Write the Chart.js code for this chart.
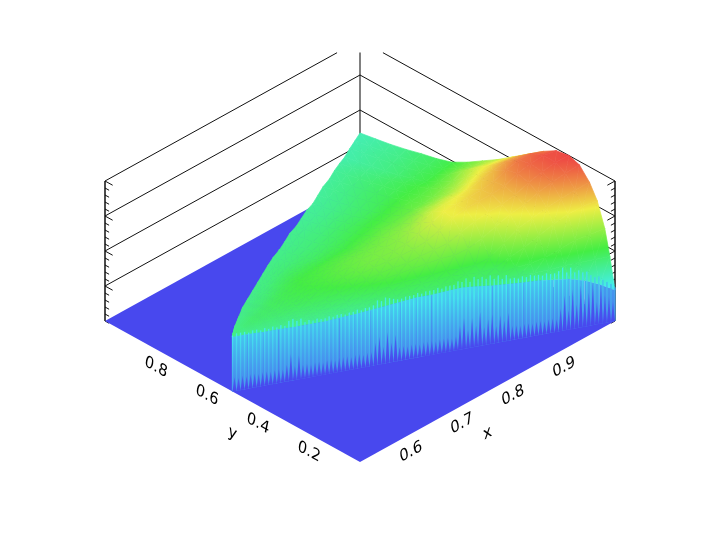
<!DOCTYPE html>
<html>
<head>
<meta charset="utf-8">
<title>Surface</title>
<script src="https://cdn.jsdelivr.net/npm/chart.js@4/dist/chart.umd.min.js"></script>
<style>
  html, body { margin: 0; padding: 0; background: #fff; }
  canvas { display: block; }
</style>
</head>
<body>
<canvas id="surfaceChart" width="720" height="540"></canvas>
<script>
// tick labels
const xTicks = [0.6, 0.7, 0.8, 0.9];
const yTicks = [0.2, 0.4, 0.6, 0.8];
const zGrid = [0.25, 0.5, 0.75, 1];
const zMinor = [0, 0.05, 0.1, 0.15, 0.2, 0.25, 0.3, 0.35, 0.4, 0.45, 0.5, 0.55, 0.6, 0.65, 0.7, 0.75, 0.8, 0.85, 0.9, 0.95, 1];

// surface grid, columns are x, rows run from the front edge (yFront) to the back edge (yBack)
const xValues = [0.5, 0.52, 0.54, 0.56, 0.58, 0.6, 0.62, 0.64, 0.66, 0.68, 0.7, 0.72, 0.74, 0.76, 0.78, 0.8, 0.82, 0.84, 0.86, 0.88, 0.9, 0.92, 0.94, 0.96, 0.98, 1];
const yFront = [0.5, 0.48, 0.46, 0.44, 0.42, 0.4, 0.38, 0.36, 0.34, 0.32, 0.3, 0.28, 0.26, 0.24, 0.22, 0.2, 0.18, 0.16, 0.14, 0.12, 0.1, 0.08, 0.06, 0.04, 0.02, 0];
const yBack = [0.5, 0.53, 0.555, 0.58, 0.6, 0.62, 0.64, 0.66, 0.68, 0.7, 0.715, 0.735, 0.755, 0.77, 0.79, 0.81, 0.825, 0.845, 0.865, 0.88, 0.9, 0.92, 0.94, 0.96, 0.98, 1];
const rowFractions = [0, 0.02, 0.04, 0.07, 0.1, 0.14, 0.18, 0.23, 0.28, 0.34, 0.4, 0.46, 0.52, 0.58, 0.64, 0.7, 0.76, 0.82, 0.88, 0.94, 1];
const zRows = [
  [.39,.39,.385,.385,.38,.38,.38,.385,.39,.40,.41,.42,.43,.43,.435,.44,.43,.415,.405,.395,.39,.375,.36,.33,.28,.22],
  [.39,.39,.39,.39,.39,.39,.39,.39,.395,.40,.41,.425,.435,.44,.445,.45,.44,.43,.43,.43,.43,.43,.44,.44,.44,.44],
  [.39,.39,.395,.395,.40,.40,.40,.40,.40,.41,.42,.435,.445,.45,.455,.46,.45,.45,.455,.47,.48,.50,.54,.58,.60,.62],
  [.39,.395,.40,.40,.405,.405,.41,.41,.415,.43,.445,.46,.47,.47,.475,.48,.47,.46,.47,.52,.57,.63,.69,.74,.77,.79],
  [.39,.40,.405,.41,.415,.42,.425,.43,.44,.455,.47,.485,.49,.49,.495,.50,.49,.49,.52,.60,.68,.73,.78,.82,.86,.89],
  [.39,.405,.41,.415,.42,.43,.44,.45,.46,.48,.50,.52,.53,.54,.55,.56,.56,.58,.63,.69,.75,.79,.85,.90,.94,.975],
  [.39,.41,.42,.425,.435,.44,.45,.465,.48,.50,.52,.54,.55,.56,.58,.60,.62,.67,.72,.76,.79,.83,.89,.94,.98,1.0],
  [.39,.415,.43,.435,.445,.455,.47,.48,.50,.52,.54,.56,.57,.585,.60,.63,.68,.74,.775,.80,.82,.85,.91,.95,.98,.985],
  [.39,.42,.435,.44,.45,.465,.48,.49,.51,.53,.55,.57,.58,.59,.61,.65,.70,.75,.765,.79,.81,.84,.89,.93,.945,.93],
  [.395,.42,.44,.445,.455,.47,.485,.50,.515,.535,.55,.565,.575,.585,.60,.63,.67,.71,.73,.75,.77,.80,.83,.86,.865,.85],
  [.395,.42,.44,.445,.46,.475,.49,.505,.515,.53,.545,.555,.56,.57,.585,.60,.62,.65,.67,.69,.70,.73,.76,.78,.78,.77],
  [.395,.42,.44,.445,.46,.475,.49,.505,.51,.52,.53,.535,.54,.55,.56,.57,.58,.595,.61,.62,.63,.65,.68,.71,.70,.69],
  [.40,.415,.435,.44,.455,.47,.485,.50,.505,.51,.515,.515,.515,.525,.53,.54,.545,.55,.555,.56,.57,.585,.60,.63,.62,.62],
  [.40,.415,.43,.435,.45,.46,.475,.49,.49,.49,.49,.49,.49,.50,.505,.51,.515,.52,.525,.53,.53,.535,.54,.55,.55,.55],
  [.40,.415,.425,.43,.44,.45,.465,.475,.475,.475,.47,.47,.47,.475,.48,.485,.49,.49,.495,.50,.50,.50,.49,.49,.49,.49],
  [.40,.41,.42,.425,.43,.44,.45,.46,.46,.455,.45,.45,.45,.455,.46,.46,.46,.46,.465,.47,.47,.47,.46,.46,.455,.455],
  [.40,.41,.415,.42,.425,.43,.44,.445,.445,.44,.44,.435,.435,.44,.44,.44,.44,.44,.445,.45,.45,.445,.43,.43,.43,.43],
  [.40,.405,.41,.415,.42,.42,.425,.43,.43,.425,.425,.42,.42,.42,.42,.42,.42,.42,.425,.43,.43,.42,.405,.405,.40,.40],
  [.40,.405,.405,.41,.41,.415,.415,.42,.42,.415,.415,.41,.41,.41,.405,.40,.40,.40,.405,.41,.41,.40,.385,.385,.38,.375],
  [.40,.40,.40,.405,.405,.405,.41,.41,.41,.405,.405,.40,.40,.395,.39,.385,.385,.385,.39,.39,.39,.38,.365,.365,.36,.355],
  [.40,.40,.40,.40,.40,.40,.40,.40,.40,.395,.395,.39,.39,.385,.38,.375,.37,.37,.37,.37,.37,.36,.345,.345,.34,.336]
];

// jagged skirt along the front edge, one value per strip from x = 0.5 to x = 1
const skirtTops = [
  .40,.41,.41,.41,.40,.41,.41,.40,.41,.40,
  .41,.40,.41,.40,.43,.44,.42,.43,.40,.41,
  .40,.41,.40,.40,.41,.40,.41,.41,.40,.41,
  .41,.42,.41,.42,.42,.43,.46,.45,.47,.46,
  .45,.44,.44,.45,.45,.45,.46,.45,.46,.46,
  .46,.47,.46,.47,.47,.47,.49,.48,.50,.47,
  .50,.48,.49,.47,.49,.46,.48,.45,.47,.44,
  .44,.43,.44,.43,.44,.43,.43,.42,.43,.42,
  .42,.43,.45,.41,.44,.40,.41,.39,.39,.36,
  .34,.34,.31,.29,.27,.24
];
const skirtSpikes = [
  .10,.09,.10,.09,.10,.10,.09,.10,.10,.09,
  .10,.10,.09,.12,.19,.10,.17,.10,.10,.09,
  .10,.10,.09,.10,.10,.09,.10,.10,.10,.09,
  .10,.10,.09,.10,.10,.16,.20,.12,.22,.14,
  .19,.10,.10,.09,.10,.10,.09,.10,.10,.10,
  .09,.10,.10,.10,.09,.10,.17,.22,.13,.21,
  .15,.24,.13,.18,.21,.12,.19,.15,.20,.10,
  .10,.09,.10,.10,.09,.10,.10,.09,.10,.10,
  .09,.16,.25,.14,.28,.17,.30,.20,.24,.30,
  .16,.27,.20,.18,.14,.10
];

// colour ramp of the surface, blue at the floor and red at the top
const rampColors = [[72, 72, 238], [68, 238, 238], [68, 238, 68], [238, 238, 68], [238, 68, 68]];

function rampColor(z) {
  const pos = Math.min(Math.max(z, 0), 1) * (rampColors.length - 1);
  const i = Math.min(Math.floor(pos), rampColors.length - 2);
  const f = pos - i;
  const c = rampColors[i].map((v, n) => Math.round(v + (rampColors[i + 1][n] - v) * f));
  return 'rgb(' + c.join(',') + ')';
}

// isometric view of the box, x runs 0.5..1 and y 0..1 on the floor
function project(x, y, z) {
  const px = (x - 0.5) / 0.5;
  return { x: px - y, y: px + y + z * 140 / 141 };
}

function shape(points, color, border) {
  return {
    data: points,
    showLine: true,
    fill: 'shape',
    backgroundColor: color,
    borderColor: border || color,
    borderWidth: border ? 0.7 : 0,
    pointRadius: 0,
    tension: 0
  };
}

function line(points, color, width) {
  return {
    data: points,
    showLine: true,
    fill: false,
    borderColor: color,
    borderWidth: width || 1,
    pointRadius: 0,
    tension: 0
  };
}

function addRampStops(g, zLow, zHigh) {
  g.addColorStop(0, rampColor(zLow));
  for (let k = 1; k < rampColors.length - 1; k++) {
    const knot = k / (rampColors.length - 1);
    if (knot > zLow && knot < zHigh) g.addColorStop((knot - zLow) / (zHigh - zLow), rampColor(knot));
  }
  g.addColorStop(1, rampColor(zHigh));
}

// vertical gradient between the floor and zTop at one spot
function columnFill(x, y, zTop, zA, zB) {
  return function (ctx) {
    const chart = ctx.chart;
    if (!chart.chartArea) return rampColor(zB);
    const y0 = chart.scales.y.getPixelForValue(project(x, y, 0).y);
    const y1 = chart.scales.y.getPixelForValue(project(x, y, zTop).y);
    const g = chart.ctx.createLinearGradient(0, y0, 0, y1);
    addRampStops(g, zA, zB);
    return g;
  };
}

// colour of a triangle follows z, a plane in pixel space is a plain linear gradient
function triangleFill(tri) {
  const zs = tri.map(p => p.z);
  const zLow = Math.min.apply(null, zs), zHigh = Math.max.apply(null, zs);
  const flat = rampColor((zLow + zHigh) / 2);
  let cached = null;
  return function (ctx) {
    const chart = ctx.chart;
    if (!chart.chartArea) return flat;
    if (cached) return cached;
    const pix = tri.map(function (p) {
      const q = project(p.x, p.y, p.z);
      return { x: chart.scales.x.getPixelForValue(q.x), y: chart.scales.y.getPixelForValue(q.y), z: p.z };
    });
    const ax = pix[1].x - pix[0].x, ay = pix[1].y - pix[0].y;
    const bx = pix[2].x - pix[0].x, by = pix[2].y - pix[0].y;
    const det = ax * by - ay * bx;
    if (Math.abs(det) < 0.5 || zHigh - zLow < 0.001) {
      cached = flat;
      return cached;
    }
    const dz1 = pix[1].z - pix[0].z, dz2 = pix[2].z - pix[0].z;
    const gx = (dz1 * by - dz2 * ay) / det;
    const gy = (ax * dz2 - bx * dz1) / det;
    const g2 = gx * gx + gy * gy;
    const low = pix.find(p => p.z === zLow);
    const span = (zHigh - zLow) / g2;
    const g = chart.ctx.createLinearGradient(low.x, low.y, low.x + gx * span, low.y + gy * span);
    addRampStops(g, zLow, zHigh);
    cached = g;
    return cached;
  };
}

const edgeY = x => 1 - x;
const datasets = [];

// skirt first so it ends up on top, Chart.js paints dataset 0 last
const step = 0.5 / (skirtTops.length - 1);
skirtSpikes.forEach(function (z, k) {
  const x = 0.5 + step * (k + 0.5);
  if (x >= 1) return;
  const h = step / 2;
  datasets.push(shape([
    project(x - h, edgeY(x - h), 0),
    project(x, edgeY(x), z),
    project(x + h, edgeY(x + h), 0),
    project(x - h, edgeY(x - h), 0)
  ], columnFill(x, edgeY(x), z, 0.0, 0.045)));
});
skirtTops.forEach(function (z, k) {
  const x = 0.5 + step * k;
  const h = step * 0.16;
  datasets.push(shape([
    project(x - h, edgeY(x - h), 0),
    project(x - h, edgeY(x - h), z),
    project(x + h, edgeY(x + h), z),
    project(x + h, edgeY(x + h), 0),
    project(x - h, edgeY(x - h), 0)
  ], columnFill(x, edgeY(x), z, 0.12, z * 0.6)));
});
for (let c = 0; c < xValues.length - 1; c++) {
  const a = xValues[c], b = xValues[c + 1];
  const za = zRows[0][c], zb = zRows[0][c + 1];
  datasets.push(shape([
    project(a, edgeY(a), 0),
    project(a, edgeY(a), za),
    project(b, edgeY(b), zb),
    project(b, edgeY(b), 0),
    project(a, edgeY(a), 0)
  ], columnFill(a, edgeY(a), (za + zb) / 2, 0.08, (za + zb) * 0.24)));
}

// surface triangles, nearest first
const triangles = [];
function gridPoint(c, r) {
  return {
    x: xValues[c],
    y: yFront[c] + rowFractions[r] * (yBack[c] - yFront[c]),
    z: zRows[r][c]
  };
}
for (let r = 0; r < rowFractions.length - 1; r++) {
  for (let c = 0; c < xValues.length - 1; c++) {
    const p00 = gridPoint(c, r), p10 = gridPoint(c + 1, r), p11 = gridPoint(c + 1, r + 1), p01 = gridPoint(c, r + 1);
    triangles.push([p00, p10, p11], [p00, p11, p01]);
  }
}
const depthOf = t => t.reduce((s, p) => s + (p.x - 0.5) / 0.5 + p.y, 0);
triangles.sort((a, b) => depthOf(a) - depthOf(b));
triangles.forEach(function (tri) {
  const pts = tri.map(p => project(p.x, p.y, p.z));
  pts.push(pts[0]);
  const fillFn = triangleFill(tri);
  datasets.push(shape(pts, fillFn, fillFn));
});

// floor
datasets.push(shape([
  project(0.5, 0, 0), project(1, 0, 0), project(1, 1, 0), project(0.5, 1, 0), project(0.5, 0, 0)
], '#4848ee'));

// back walls, the top level is cut off by the plot frame at about 0.91
const wallCut = 0.91;
zGrid.forEach(function (z) {
  const end = z === 1 ? wallCut : 1;
  datasets.push(line([project(0.5, 1, z), project(0.5 + 0.5 * end, 1, z)], '#111'));
  datasets.push(line([project(1, 0, z), project(1, end, z)], '#111'));
});
datasets.push(line([project(0.5, 1, 0), project(0.5, 1, 1)], '#111', 1.5));
datasets.push(line([project(1, 0, 0), project(1, 0, 1)], '#111', 1.5));
datasets.push(line([project(1, 1, 0), project(1, 1, wallCut)], '#808080', 2));
zMinor.forEach(function (z) {
  const len = zGrid.includes(z) ? 0.03 : 0.016;
  datasets.push(line([project(0.5, 1, z), project(0.5, 1 - len, z)], '#111'));
  datasets.push(line([project(1, 0, z), project(1 - len / 2, 0, z)], '#111'));
});

// tick labels lie on the floor, so they follow the axis direction
const axisText = {
  id: 'axisText',
  afterDraw(chart) {
    const c = chart.ctx;
    const sx = chart.scales.x, sy = chart.scales.y;
    function put(text, pos, right) {
      const px = sx.getPixelForValue(pos.x), py = sy.getPixelForValue(pos.y);
      c.save();
      if (right) c.setTransform(0.87, -0.48, 0.2, 0.97, px, py);
      else c.setTransform(0.87, 0.48, -0.2, 0.97, px, py);
      c.fillStyle = '#000';
      c.font = '16px "DejaVu Sans"';
      c.textAlign = 'center';
      c.textBaseline = 'middle';
      c.fillText(text, 0, 0);
      c.restore();
    }
    xTicks.forEach(v => put(v.toFixed(1), project(v, 0, -0.13), true));
    yTicks.forEach(v => put(v.toFixed(1), project(0.5, v, -0.13), false));
    put('x', project(0.75, 0, -0.3), true);
    put('y', project(0.5, 0.5, -0.3), false);
  }
};

new Chart(document.getElementById('surfaceChart').getContext('2d'), {
  type: 'scatter',
  data: { datasets: datasets },
  options: {
    responsive: false,
    animation: false,
    events: [],
    layout: { padding: 0 },
    clip: false,
    plugins: { legend: { display: false }, tooltip: { enabled: false } },
    scales: {
      x: { type: 'linear', display: false, min: -360 / 255, max: 360 / 255 },
      y: { type: 'linear', display: false, min: (462 - 540) / 141, max: 462 / 141 }
    }
  },
  plugins: [axisText]
});
</script>
</body>
</html>
